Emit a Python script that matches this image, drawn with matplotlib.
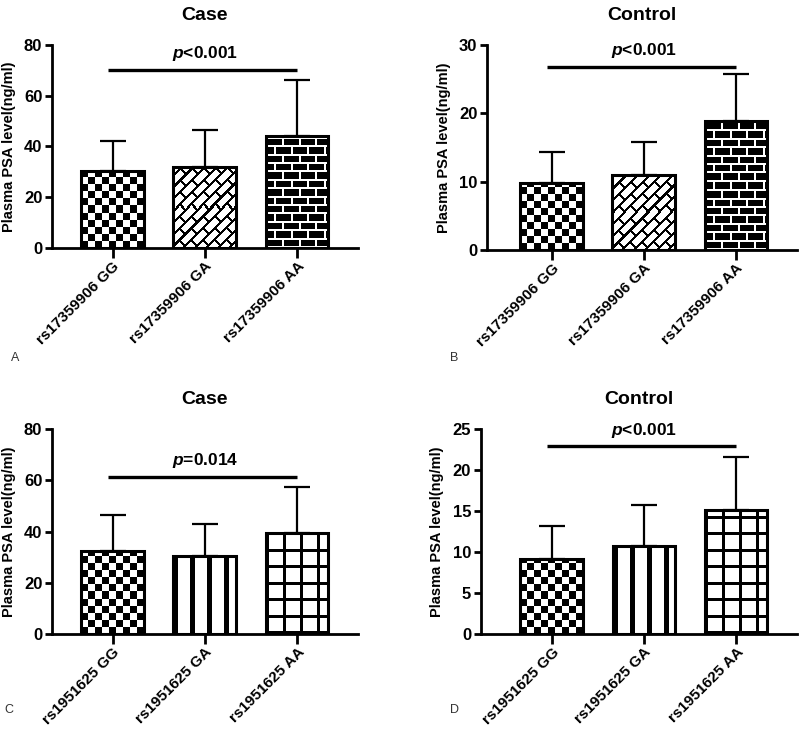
import numpy as np
import matplotlib
matplotlib.use("Agg")
import matplotlib.pyplot as plt

plt.rcParams["font.family"] = ["Liberation Sans", "DejaVu Sans"]
plt.rcParams["font.weight"] = "bold"
plt.rcParams["mathtext.fontset"] = "custom"
plt.rcParams["mathtext.it"] = "Liberation Sans:italic:bold"
plt.rcParams["mathtext.rm"] = "Liberation Sans:bold"

# data (mean and SD above the bar)
snp1_labels = ["rs17359906 GG", "rs17359906 GA", "rs17359906 AA"]
snp2_labels = ["rs1951625 GG", "rs1951625 GA", "rs1951625 AA"]

case1_mean = [30.5, 32.0, 44.1]
case1_sd = [11.6, 14.5, 22.0]
ctrl1_mean = [9.8, 11.0, 18.9]
ctrl1_sd = [4.6, 4.8, 6.8]

case2_mean = [32.5, 30.6, 39.4]
case2_sd = [14.1, 12.3, 18.1]
ctrl2_mean = [9.2, 10.8, 15.2]
ctrl2_sd = [4.0, 4.9, 6.4]

p_texts = ["<0.001", "<0.001", "=0.014", "<0.001"]
sig_heights = [70, 26.8, 61.4, 22.9]
ymax = [80, 30, 80, 25]
ystep = [20, 10, 20, 5]


# ---- fill textures (0 = black, 1 = white), built in pixel units ----
def tex_checker(x, y):
    s = 7.0
    return ((np.floor(x / s) + np.floor(y / s)) % 2).astype(float)


def tex_diag_brick(x, y):
    u = (x + y) / np.sqrt(2)
    v = (y - x) / np.sqrt(2)
    p, L, m = 8.2, 17.0, 2.2
    row = np.floor(v / p)
    mortar_row = (v % p) < m
    uu = (u + (row % 2) * L / 2) % L
    mortar_col = uu < m
    return np.where(mortar_row | mortar_col, 0.0, 1.0)


def tex_brick(x, y):
    p, L, m = 8.4, 16.5, 2.0
    row = np.floor(y / p)
    mortar_row = (y % p) < m
    xx = (x + (row % 2) * L / 2) % L
    mortar_col = xx < m
    return np.where(mortar_row | mortar_col, 1.0, 0.0)


def tex_vstripe(x, y):
    return np.where((x % 17.0) < 5.0, 0.0, 1.0)


def tex_grid(x, y):
    return np.where(((x % 17.0) < 3.0) | ((y % 16.5) < 3.0), 0.0, 1.0)


def fill_bar(ax, bar, tex):
    x0, y0 = bar.get_x(), bar.get_y()
    x1, y1 = x0 + bar.get_width(), y0 + bar.get_height()
    (px0, py0), (px1, py1) = ax.transData.transform([(x0, y0), (x1, y1)])
    w = max(int(round(px1 - px0)), 1)
    h = max(int(round(py1 - py0)), 1)
    xx, yy = np.meshgrid(np.arange(w) + 0.5, np.arange(h) + 0.5)
    img = tex(xx, yy)
    im = ax.imshow(img, cmap="gray", vmin=0, vmax=1, origin="lower",
                   extent=(x0, x1, y0, y1), interpolation="nearest",
                   aspect="auto", zorder=1)
    im.set_clip_path(bar)


def draw_panel(ax, labels, mean, sd, textures, title, ylim_top, step,
               sig_y, ptxt, xlim):
    x = np.arange(len(labels))
    ax.set_xlim(*xlim)
    ax.set_ylim(0, ylim_top)
    ax.set_yticks(np.arange(0, ylim_top + 0.1, step))
    bars = ax.bar(x, mean, width=0.68, facecolor="none", edgecolor="black",
                  linewidth=2.2, zorder=3)
    for b, t in zip(bars, textures):
        fill_bar(ax, b, t)
    ax.errorbar(x, mean, yerr=[np.zeros(len(sd)), sd], fmt="none",
                ecolor="black", elinewidth=1.6, capsize=9.5, capthick=1.6,
                zorder=2)
    ax.plot([-0.05, 2.0], [sig_y, sig_y], color="black", lw=2.4,
            solid_capstyle="butt", clip_on=False)
    ax.annotate("$p$" + ptxt, xy=(1.0, sig_y), xytext=(0, 5),
                textcoords="offset points", ha="center", va="bottom",
                fontsize=12.5, fontweight="bold")
    ax.set_title(title, fontsize=14, fontweight="bold", pad=18)
    ax.set_ylabel("Plasma PSA level(ng/ml)", fontsize=10.5,
                  fontweight="bold", labelpad=6)
    ax.set_xticks(x)
    ax.set_xticklabels(labels, rotation=45, ha="right",
                       rotation_mode="anchor", fontsize=11, fontweight="bold")
    for lab in ax.get_yticklabels():
        lab.set_fontsize(12)
        lab.set_fontweight("bold")
    ax.spines["top"].set_visible(False)
    ax.spines["right"].set_visible(False)
    ax.spines["left"].set_linewidth(2)
    ax.spines["bottom"].set_linewidth(2)
    ax.tick_params(axis="x", length=7, width=2, pad=1)
    ax.tick_params(axis="y", length=5, width=2, pad=2)


fig = plt.figure(figsize=(8, 7.29), dpi=100)
axA = fig.add_axes([0.065, 0.6598, 0.3825, 0.2785])
axB = fig.add_axes([0.609, 0.657, 0.3875, 0.2812])
axC = fig.add_axes([0.065, 0.1300, 0.3825, 0.2812])
axD = fig.add_axes([0.601, 0.1300, 0.395, 0.2812])

tex1 = [tex_checker, tex_diag_brick, tex_brick]
tex2 = [tex_checker, tex_vstripe, tex_grid]

draw_panel(axA, snp1_labels, case1_mean, case1_sd, tex1, "Case",
           ymax[0], ystep[0], sig_heights[0], p_texts[0], (-0.656, 2.66))
draw_panel(axB, snp1_labels, ctrl1_mean, ctrl1_sd, tex1, "Control",
           ymax[1], ystep[1], sig_heights[1], p_texts[1], (-0.70, 2.666))
draw_panel(axC, snp2_labels, case2_mean, case2_sd, tex2, "Case",
           ymax[2], ystep[2], sig_heights[2], p_texts[2], (-0.656, 2.66))
draw_panel(axD, snp2_labels, ctrl2_mean, ctrl2_sd, tex2, "Control",
           ymax[3], ystep[3], sig_heights[3], p_texts[3], (-0.77, 2.66))

for lbl, (fx, fy) in zip("ABCD", [(0.014, 0.505), (0.562, 0.505),
                                  (0.006, 0.022), (0.562, 0.022)]):
    fig.text(fx, fy, lbl, fontsize=9, fontweight="normal", color="#333333")

fig.savefig("out.png", dpi=100)
